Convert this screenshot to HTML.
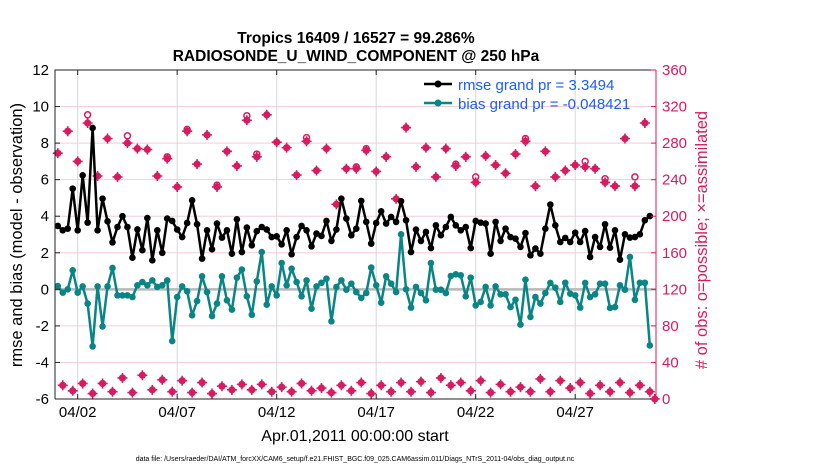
<!DOCTYPE html>
<html><head><meta charset="utf-8">
<style>
body{margin:0;background:#fff;}
svg text{font-family:"Liberation Sans",Arial,sans-serif;}
</style></head>
<body>
<svg id="chart" width="830" height="470" xmlns="http://www.w3.org/2000/svg">
<text x="356" y="43" text-anchor="middle" font-size="15.5" font-weight="bold">Tropics 16409 / 16527 = 99.286%</text>
<text x="356" y="61" text-anchor="middle" font-size="15.5" font-weight="bold">RADIOSONDE_U_WIND_COMPONENT @ 250 hPa</text>
<g id="grid"></g>
<g id="marks"></g>
<g id="axes"></g>
<text transform="translate(22,235) rotate(-90)" text-anchor="middle" font-size="16.5">rmse and bias (model - observation)</text>
<text transform="translate(707,240) rotate(-90)" text-anchor="middle" font-size="16.5" fill="#d81b60"># of obs: o=possible; ×=assimilated</text>
<text x="355" y="441" text-anchor="middle" font-size="16">Apr.01,2011 00:00:00 start</text>
<text x="355" y="461" text-anchor="middle" font-size="7">data file: /Users/raeder/DAI/ATM_forcXX/CAM6_setup/f.e21.FHIST_BGC.f09_025.CAM6assim.011/Diags_NTrS_2011-04/obs_diag_output.nc</text>
<g>
<line x1="424" y1="84" x2="452" y2="84" stroke="#000" stroke-width="2.5"/><circle cx="438" cy="84" r="3.5" fill="#000"/>
<text x="458" y="90" font-size="15" fill="#1a5cff">rmse grand pr = 3.3494</text>
<line x1="424" y1="103" x2="452" y2="103" stroke="#0a8585" stroke-width="2.5"/><circle cx="438" cy="103" r="3.5" fill="#0a8585"/>
<text x="458" y="109" font-size="15" fill="#1a5cff">bias grand pr = -0.048421</text>
</g>
</svg>
<script>
const rmse=[3.47,3.23,3.32,5.51,3.23,6.24,3.65,8.83,3.23,4.96,3.72,2.57,3.41,4.0,3.41,1.73,3.28,2.14,3.9,1.59,3.23,2.0,3.87,3.74,
3.27,2.86,3.63,4.87,3.56,1.68,3.23,2.19,3.6,2.83,3.23,1.95,3.83,2.04,3.38,2.41,3.18,3.41,3.27,2.86,2.9,2.46,3.23,1.92,
2.86,3.47,3.23,2.35,3.05,2.92,3.74,2.65,3.27,4.96,3.87,2.96,3.32,4.84,3.69,2.5,3.63,4.27,3.6,3.96,3.69,4.82,3.78,2.04,
3.27,2.65,3.14,2.26,3.5,2.96,3.41,3.96,3.5,3.23,3.41,2.26,3.74,3.65,3.6,1.95,3.69,2.65,3.32,2.86,2.77,2.32,3.08,1.86,
2.23,1.95,3.32,4.64,3.5,2.59,2.81,2.59,3.1,2.59,3.19,1.77,2.86,2.32,3.56,2.28,3.23,1.62,3.01,2.83,2.86,3.01,3.78,4.01];
const bias=[0.18,-0.18,0,1.04,-0.18,0.16,-0.78,-3.12,0.16,-2.03,0.16,1.17,-0.33,-0.33,-0.33,-0.42,0.22,0.4,0.22,0.49,0.13,0.22,0.49,-2.83,
-0.42,0.16,-0.11,-1.42,-0.64,0.71,-0.15,-1.46,-0.78,0.71,-0.6,-1.11,0.64,1.08,-0.38,-1.39,0.44,2.04,-0.84,0.16,-0.33,1.44,0.22,1.13,
0.4,-0.38,0.49,-1.06,0.16,0.36,0.58,-1.75,0.13,0.49,-0.02,0.31,-0.15,-0.47,-0.2,1.19,0.22,-0.73,0.71,0.31,-0.15,3.01,0,-1.0,
0.13,-0.2,-0.6,1.44,-0.02,-0.02,-0.2,0.73,0.82,0.77,-0.38,0.64,-0.88,-0.69,0.13,-0.88,0.16,-0.27,-0.27,-0.97,-0.57,-1.93,0.53,-1.51,
-0.42,-0.78,-0.2,0.35,0.09,-0.69,0.36,-0.24,-0.33,-1.0,0.35,-0.42,-0.27,0.31,0.31,-1.02,-0.97,0.22,-0.02,1.77,-0.57,0.36,0.36,-3.07];
const nAssim=[269,15,293,9,260,17,302,6,244,17,285,8,243,23,280,7,274,26,273,10,244,21,263,8,
232,20,293,7,257,18,289,6,232,14,271,10,255,16,305,10,265,16,311,8,281,13,275,8,
245,17,282,9,250,12,274,7,213,15,252,9,252,18,272,6,249,15,265,8,219,18,297,8,
254,19,275,7,243,23,274,15,255,18,265,9,237,20,266,7,256,16,247,8,268,13,282,8,
233,22,271,8,243,20,250,12,256,18,254,6,252,15,237,8,233,18,285,7,233,15,302,8,0];
const nPoss=[269,15,293,9,260,17,311,6,244,17,285,8,243,23,288,7,274,26,273,10,244,21,265,8,
232,20,295,7,257,18,289,6,234,14,271,10,255,16,310,10,268,16,311,8,281,13,275,8,
245,17,286,9,250,12,274,7,213,15,252,9,254,18,274,6,249,15,265,8,219,18,297,8,
254,19,275,7,243,23,274,15,257,18,265,9,243,20,266,7,256,16,247,8,268,13,285,8,
233,22,271,8,243,20,250,12,256,18,260,6,252,15,241,8,233,18,285,7,243,15,302,8,0];
const leftTicks=[-6,-4,-2,0,2,4,6,8,10,12];
const rightTicks=[0,40,80,120,160,200,240,280,320,360];
const dateTicks=[1,6,11,16,21,26];
const dateLabels=["04/02","04/07","04/12","04/17","04/22","04/27"];
</script>
<script>
const NS="http://www.w3.org/2000/svg";
const X0=55,X1=656,Y0=70,Y1=399;
const DMIN=-0.14,DMAX=30.06;
function xs(d){return X0+(d-DMIN)/(DMAX-DMIN)*(X1-X0);}
function yl(v){return Y1-(v+6)/18*(Y1-Y0);}
function yr(c){return Y1-c/360*(Y1-Y0);}
function mk(tag,attrs,parent){const e=document.createElementNS(NS,tag);for(const k in attrs)e.setAttribute(k,attrs[k]);parent.appendChild(e);return e;}
const grid=document.getElementById('grid'),marks=document.getElementById('marks'),axes=document.getElementById('axes');
mk('rect',{x:X0,y:Y0,width:X1-X0,height:Y1-Y0,fill:'#fff'},grid);
rightTicks.forEach(c=>{const l=mk('line',{x1:X0,x2:X1,y1:yr(c),y2:yr(c),stroke:'#f3cddc','stroke-width':1},grid);

});
dateTicks.forEach(d=>{const l=mk('line',{x1:xs(d),x2:xs(d),y1:Y0,y2:Y1,stroke:'#d8d8d8','stroke-width':1},grid);

});
const zl=mk('line',{x1:X0,x2:X1,y1:yl(0),y2:yl(0),stroke:'#b8b8b8','stroke-width':2.5},grid);


nPoss.forEach((c,i)=>{if(c!==nAssim[i]){const e=mk('circle',{cx:xs(i/4),cy:yr(c),r:3,fill:'none',stroke:'#d81b60','stroke-width':1.5},marks);

}});
nAssim.forEach((c,i)=>{const x=xs(i/4),y=yr(c);
const g=mk('g',{},marks);


mk('circle',{cx:x,cy:y,r:3.6,fill:'#d81b60'},g);
mk('path',{d:`M${x-5} ${y}H${x+5}M${x} ${y-5}V${y+5}`,stroke:'#d81b60','stroke-width':1.6},g);});
function series(arr,color,name){
const p=mk('polyline',{points:arr.map((v,i)=>xs(i/4)+','+yl(v)).join(' '),fill:'none',stroke:color,'stroke-width':2.5,'stroke-linejoin':'round'},marks);


arr.forEach((v,i)=>{const c=mk('circle',{cx:xs(i/4),cy:yl(v),r:3.3,fill:color},marks);

});}
series(bias,'#0a8585','bias');
series(rmse,'#000','rmse');
const frame=mk('path',{d:`M${X0} ${Y1}V${Y0}H${X1}M${X0} ${Y1}H${X1}`,fill:'none',stroke:'#222','stroke-width':1},axes);


const ra=mk('line',{x1:X1,x2:X1,y1:Y0,y2:Y1,stroke:'#d81b60','stroke-width':1},axes);


leftTicks.forEach(v=>{mk('line',{x1:X0,x2:X0+5,y1:yl(v),y2:yl(v),stroke:'#222'},axes);
const t=mk('text',{x:X0-6,y:yl(v)+5,'text-anchor':'end','font-size':15},axes);t.textContent=v;

});
rightTicks.forEach(c=>{mk('line',{x1:X1-5,x2:X1,y1:yr(c),y2:yr(c),stroke:'#d81b60'},axes);
const t=mk('text',{x:X1+6,y:yr(c)+5,'font-size':15,fill:'#d81b60'},axes);t.textContent=c;

});
dateTicks.forEach((d,k)=>{mk('line',{x1:xs(d),x2:xs(d),y1:Y1,y2:Y1-5,stroke:'#222'},axes);mk('line',{x1:xs(d),x2:xs(d),y1:Y0,y2:Y0+5,stroke:'#222'},axes);
const t=mk('text',{x:xs(d),y:417,'text-anchor':'middle','font-size':15},axes);t.textContent=dateLabels[k];

});
</script>
</body></html>
